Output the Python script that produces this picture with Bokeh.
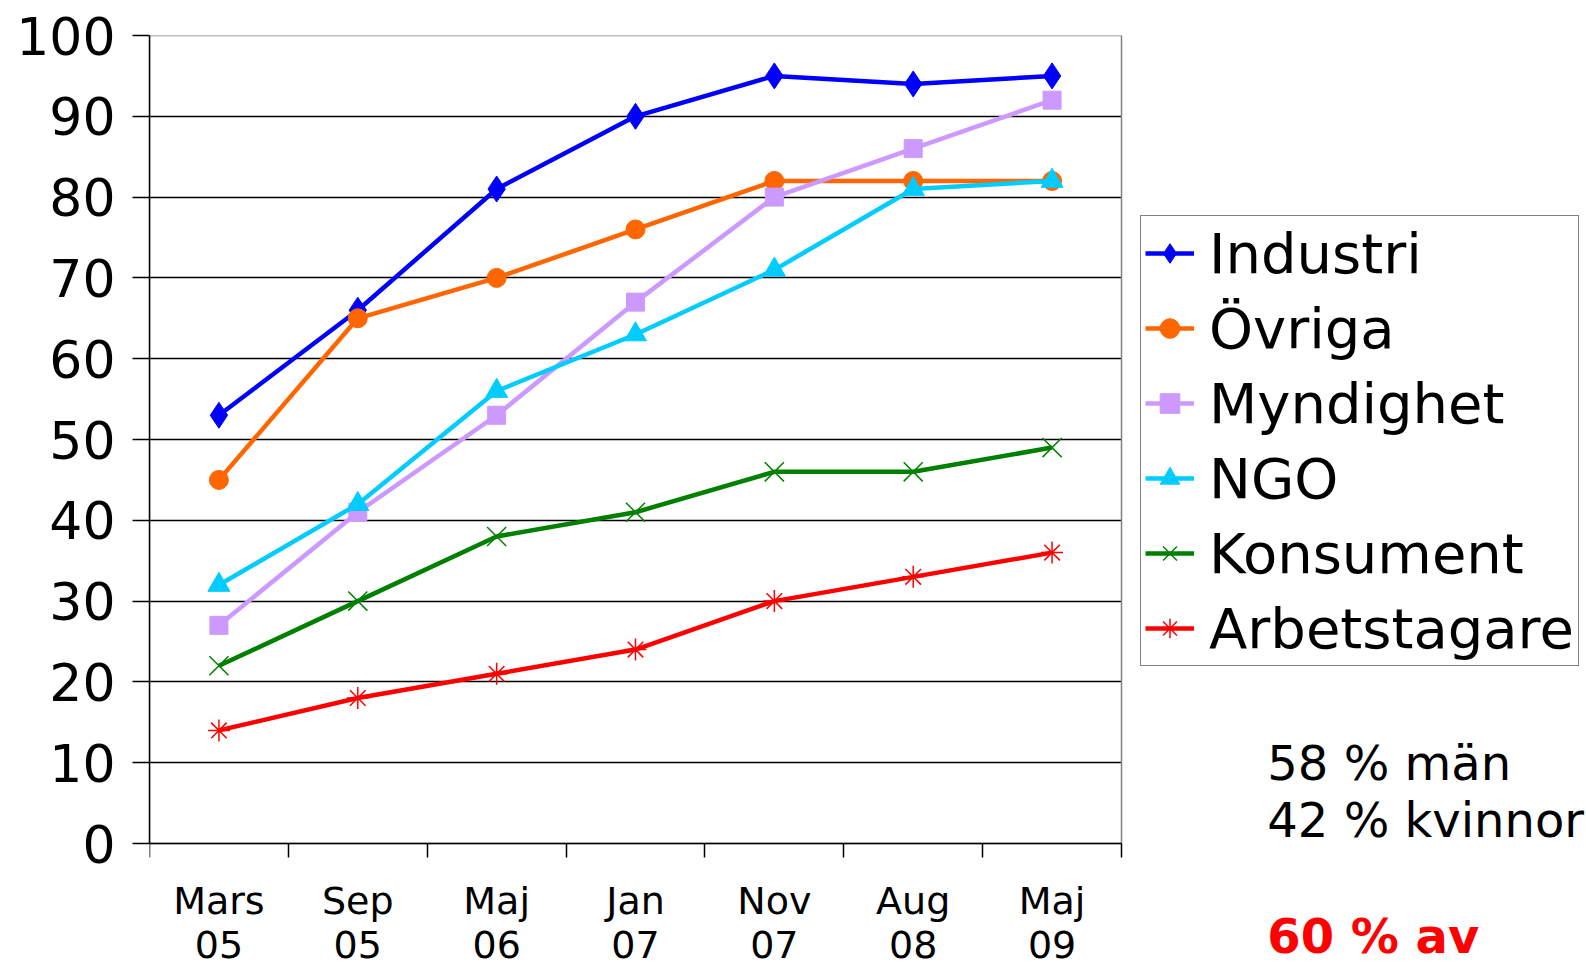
import numpy as np
from bokeh.plotting import figure
from bokeh.models import (Range1d, FixedTicker, Legend, LegendItem, Label, BoxAnnotation)
from bokeh.embed import file_html
from bokeh.resources import INLINE

categories = ["Mars\n05", "Sep\n05", "Maj\n06", "Jan\n07", "Nov\n07", "Aug\n08", "Maj\n09"]
industri = [53, 66, 81, 90, 95, 94, 95]
ovriga = [45, 65, 70, 76, 82, 82, 82]
myndighet = [27, 41, 53, 67, 80, 86, 92]
ngo = [32, 42, 56, 63, 71, 81, 82]
konsument = [22, 30, 38, 41, 46, 46, 49]
arbetstagare = [14, 18, 21, 24, 30, 33, 36]
y_ticks = list(range(0, 101, 10))
notes = ["58 % män", "42 % kvinnor", "60 % av"]

FONT = "DejaVu Sans"
W, H = 1586, 966
LEFT, TOP = 149, 35            # plot-area corner in pixels
CAT_PX, UNIT_PX = 138.857, 8.08  # px per category, px per y unit
n = len(categories)
xs = list(range(1, n + 1))

x_end = 0.5 + (W - LEFT) / CAT_PX
y_start = 100 - (H - TOP) / UNIT_PX

p = figure(width=W, height=H, output_backend="svg", toolbar_location=None,
           x_range=Range1d(0.5, x_end), y_range=Range1d(y_start, 100),
           min_border_left=LEFT, min_border_right=0, min_border_top=TOP,
           min_border_bottom=0)
p.background_fill_color = "white"
p.border_fill_color = "white"
p.outline_line_color = None

# y axis
p.yaxis.bounds = (0, 100)
p.yaxis.ticker = FixedTicker(ticks=y_ticks)
p.yaxis.major_tick_out = 17
p.yaxis.major_tick_in = 0
p.yaxis.minor_tick_line_color = None
p.yaxis.major_label_text_font = FONT
p.yaxis.major_label_text_font_size = "52px"
p.yaxis.major_label_text_color = "black"
p.yaxis.major_label_standoff = 17
p.yaxis.axis_line_color = "black"
p.yaxis.axis_line_width = 1.5
p.yaxis.major_tick_line_width = 1.5

# x axis (category boundaries as ticks, labels centred on categories)
boundaries = [i + 0.5 for i in range(n + 1)]
p.xaxis.fixed_location = 0
p.xaxis.bounds = (0.5, n + 0.5)
p.xaxis.ticker = FixedTicker(ticks=xs, minor_ticks=boundaries)
p.xaxis.major_label_overrides = {x: c for x, c in zip(xs, categories)}
p.xaxis.major_tick_line_color = None
p.xaxis.major_tick_out = 0
p.xaxis.major_tick_in = 0
p.xaxis.minor_tick_out = 14
p.xaxis.minor_tick_in = 0
p.xaxis.minor_tick_line_color = "black"
p.xaxis.minor_tick_line_width = 1.5
p.xaxis.axis_line_color = "black"
p.xaxis.axis_line_width = 1.5
p.xaxis.major_label_text_font = FONT
p.xaxis.major_label_text_font_size = "38px"
p.xaxis.major_label_text_color = "black"
p.xaxis.major_label_text_line_height = 1.0
p.xaxis.major_label_standoff = 21

p.xgrid.visible = False
p.ygrid.ticker = FixedTicker(ticks=y_ticks[1:-1])
p.ygrid.grid_line_color = "black"
p.ygrid.grid_line_width = 1.5

# keep gridlines inside the plot area, then draw its grey border
p.add_layout(BoxAnnotation(left=n + 0.5, fill_color="white", fill_alpha=1,
                           line_color=None, level="underlay"))
p.add_layout(BoxAnnotation(left=0.5, right=n + 0.5, bottom=0, top=100,
                           fill_alpha=0, line_color="#808080", line_alpha=1,
                           line_width=1.5, level="underlay"))

series = [
    ("Industri", industri, "#0000FF", dict(marker="diamond", size=26)),
    ("Övriga", ovriga, "#FF6600", dict(marker="circle", size=19)),
    ("Myndighet", myndighet, "#CC99FF", dict(marker="square", size=18)),
    ("NGO", ngo, "#00CCFF", dict(marker="triangle", size=22)),
    ("Konsument", konsument, "#008000", dict(marker="x", size=27, line_width=1.5)),
    ("Arbetstagare", arbetstagare, "#FF0000", dict(marker="asterisk", size=22, line_width=1.5)),
]

items = []
for name, vals, color, mk in series:
    lr = p.line(xs, vals, line_color=color, line_width=4.5)
    kw = dict(mk)
    lw = kw.pop("line_width", 1)
    sr = p.scatter(xs, vals, fill_color=color, line_color=color, line_width=lw, **kw)
    items.append(LegendItem(label=name, renderers=[lr, sr]))

legend = Legend(items=items, location=(991, 300))
legend.label_text_font = FONT
legend.label_text_font_size = "56px"
legend.label_text_color = "black"
legend.glyph_width = 49
legend.glyph_height = 66
legend.label_height = 66
legend.label_standoff = 15
legend.spacing = 9
legend.padding = 4
legend.margin = 0
legend.border_line_color = "black"
legend.border_line_width = 1.5
legend.background_fill_color = "white"
legend.background_fill_alpha = 1
p.add_layout(legend, "center")

# right-hand notes
note_x = 8.55
p.add_layout(Label(x=note_x, y=10.0, text=notes[0], text_font=FONT,
                   text_font_size="48px", text_color="black",
                   text_baseline="alphabetic"))
p.add_layout(Label(x=note_x, y=2.94, text=notes[1], text_font=FONT,
                   text_font_size="48px", text_color="black",
                   text_baseline="alphabetic"))
p.add_layout(Label(x=note_x, y=-11.4, text=notes[2], text_font=FONT,
                   text_font_size="48px", text_font_style="bold",
                   text_color="#FF0000", text_baseline="alphabetic"))

open("out.html", "w").write(file_html(p, INLINE))
